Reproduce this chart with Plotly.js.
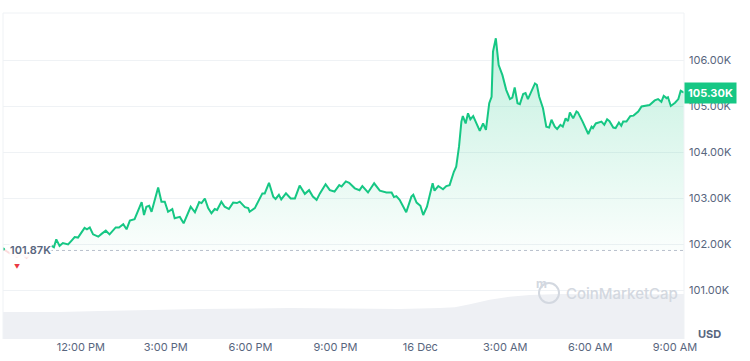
<!DOCTYPE html>
<html>
<head>
<meta charset="utf-8">
<script src="https://cdn.plot.ly/plotly-3.0.1.min.js"></script>
<style>html,body{margin:0;padding:0;background:#fff;}#chart{width:750px;height:361px;}</style>
</head>
<body>
<div id="chart"></div>
<script>
// Faded (pre-window) segment, price in thousands USD
const fadeTimes = ["2024-12-15 09:16","2024-12-15 09:29","2024-12-15 09:44","2024-12-15 09:55","2024-12-15 10:05","2024-12-15 10:18","2024-12-15 10:33","2024-12-15 10:46","2024-12-15 10:58"];
const fadePrices = [101.90,101.81,101.73,101.79,101.71,101.84,101.86,101.90,101.97];

// Main price series (thousands USD)
const times = [
"2024-12-15 10:58","2024-12-15 11:03","2024-12-15 11:08","2024-12-15 11:15","2024-12-15 11:22","2024-12-15 11:33","2024-12-15 11:40","2024-12-15 11:47","2024-12-15 11:54","2024-12-15 12:01",
"2024-12-15 12:08","2024-12-15 12:13","2024-12-15 12:19","2024-12-15 12:26","2024-12-15 12:37","2024-12-15 12:44","2024-12-15 12:53","2024-12-15 13:01","2024-12-15 13:14","2024-12-15 13:21",
"2024-12-15 13:30","2024-12-15 13:37","2024-12-15 13:44","2024-12-15 13:54","2024-12-15 14:09","2024-12-15 14:14","2024-12-15 14:19","2024-12-15 14:25","2024-12-15 14:30","2024-12-15 14:44",
"2024-12-15 14:51","2024-12-15 14:58","2024-12-15 15:05","2024-12-15 15:14","2024-12-15 15:19","2024-12-15 15:30","2024-12-15 15:38","2024-12-15 15:53","2024-12-15 16:02","2024-12-15 16:11",
"2024-12-15 16:16","2024-12-15 16:23","2024-12-15 16:30","2024-12-15 16:37","2024-12-15 16:44","2024-12-15 16:49","2024-12-15 16:58","2024-12-15 17:05","2024-12-15 17:14","2024-12-15 17:23",
"2024-12-15 17:31","2024-12-15 17:37","2024-12-15 17:48","2024-12-15 17:55","2024-12-15 17:58","2024-12-15 18:09","2024-12-15 18:16","2024-12-15 18:25","2024-12-15 18:30","2024-12-15 18:39",
"2024-12-15 18:48","2024-12-15 18:53","2024-12-15 19:00","2024-12-15 19:05","2024-12-15 19:15","2024-12-15 19:25","2024-12-15 19:34","2024-12-15 19:44","2024-12-15 19:55","2024-12-15 20:04",
"2024-12-15 20:12","2024-12-15 20:20","2024-12-15 20:27","2024-12-15 20:39","2024-12-15 20:48","2024-12-15 20:58","2024-12-15 21:08","2024-12-15 21:13","2024-12-15 21:22","2024-12-15 21:29",
"2024-12-15 21:41","2024-12-15 21:51","2024-12-15 21:57","2024-12-15 22:09","2024-12-15 22:22","2024-12-15 22:34","2024-12-15 22:48","2024-12-15 22:59","2024-12-15 23:04","2024-12-15 23:09",
"2024-12-15 23:16","2024-12-15 23:30","2024-12-15 23:41","2024-12-15 23:45","2024-12-15 23:52","2024-12-16 00:00","2024-12-16 00:06","2024-12-16 00:14","2024-12-16 00:26","2024-12-16 00:30",
"2024-12-16 00:38","2024-12-16 00:48","2024-12-16 00:55","2024-12-16 01:02","2024-12-16 01:11","2024-12-16 01:16","2024-12-16 01:22","2024-12-16 01:27","2024-12-16 01:30","2024-12-16 01:36",
"2024-12-16 01:41","2024-12-16 01:46","2024-12-16 01:52","2024-12-16 02:00","2024-12-16 02:06","2024-12-16 02:13","2024-12-16 02:19","2024-12-16 02:26","2024-12-16 02:31","2024-12-16 02:34",
"2024-12-16 02:40","2024-12-16 02:46","2024-12-16 02:54","2024-12-16 03:02","2024-12-16 03:10","2024-12-16 03:15","2024-12-16 03:20","2024-12-16 03:26","2024-12-16 03:31","2024-12-16 03:38",
"2024-12-16 03:43","2024-12-16 03:48","2024-12-16 03:56","2024-12-16 04:03","2024-12-16 04:07","2024-12-16 04:12","2024-12-16 04:20","2024-12-16 04:27","2024-12-16 04:33","2024-12-16 04:38",
"2024-12-16 04:45","2024-12-16 04:50","2024-12-16 04:57","2024-12-16 05:02","2024-12-16 05:08","2024-12-16 05:13","2024-12-16 05:17","2024-12-16 05:24","2024-12-16 05:31","2024-12-16 05:34",
"2024-12-16 05:44","2024-12-16 05:51","2024-12-16 05:56","2024-12-16 06:03","2024-12-16 06:06","2024-12-16 06:12","2024-12-16 06:24","2024-12-16 06:30","2024-12-16 06:36","2024-12-16 06:41",
"2024-12-16 06:49","2024-12-16 06:54","2024-12-16 07:01","2024-12-16 07:06","2024-12-16 07:10","2024-12-16 07:17","2024-12-16 07:25","2024-12-16 07:32","2024-12-16 07:42","2024-12-16 07:49",
"2024-12-16 07:58","2024-12-16 08:06","2024-12-16 08:17","2024-12-16 08:24","2024-12-16 08:31","2024-12-16 08:36","2024-12-16 08:42","2024-12-16 08:45","2024-12-16 08:51","2024-12-16 09:00",
"2024-12-16 09:07","2024-12-16 09:12","2024-12-16 09:19"];
const prices = [
101.97,101.94,102.11,101.97,102.03,102.00,102.08,102.16,102.15,102.27,
102.36,102.33,102.37,102.22,102.17,102.23,102.30,102.22,102.37,102.37,
102.44,102.33,102.52,102.55,102.92,102.64,102.82,102.84,102.71,103.24,
102.93,102.93,102.71,102.77,102.57,102.60,102.46,102.82,102.70,102.92,
102.90,103.00,102.79,102.68,102.77,102.75,102.93,102.82,102.77,102.91,
102.90,102.93,102.81,102.79,102.71,102.79,102.93,103.11,103.11,103.34,
103.04,102.99,103.08,102.98,103.11,103.00,103.00,103.28,103.10,103.18,
103.04,102.97,103.11,103.31,103.18,103.15,103.29,103.26,103.37,103.34,
103.22,103.18,103.27,103.13,103.33,103.17,103.13,103.13,103.03,103.05,
102.97,102.70,103.04,103.08,102.91,102.84,102.64,102.82,103.33,103.17,
103.27,103.20,103.27,103.29,103.58,103.69,104.13,104.67,104.79,104.63,
104.85,104.72,104.79,104.60,104.47,104.63,104.49,105.07,105.21,106.19,
106.48,105.90,105.68,105.36,105.16,105.19,105.41,105.07,105.05,105.27,
105.29,105.16,105.36,105.50,105.47,105.21,104.96,104.56,104.54,104.71,
104.56,104.51,104.60,104.56,104.74,104.68,104.87,104.74,104.89,104.87,
104.67,104.49,104.40,104.56,104.53,104.63,104.67,104.60,104.72,104.68,
104.54,104.53,104.65,104.58,104.67,104.67,104.79,104.80,104.89,105.00,
105.01,105.03,105.13,105.16,105.10,105.23,105.18,105.20,105.01,105.08,
105.16,105.34,105.30];

// 24h volume (billions USD)
const volTimes = ["2024-12-15 09:15","2024-12-15 11:15","2024-12-15 12:40","2024-12-15 14:26","2024-12-15 16:12","2024-12-15 19:23","2024-12-15 20:48","2024-12-15 23:16","2024-12-16 00:41","2024-12-16 01:13","2024-12-16 01:45","2024-12-16 02:27","2024-12-16 03:09","2024-12-16 03:52","2024-12-16 04:56","2024-12-16 07:03","2024-12-16 09:19"];
const volumes = [55,55,57,59,61,63,62,61,63,65,71,80,86,90,92,91,92];

const baseline = 101.87;
const lastPrice = 105.30;
const xTickVals = ["2024-12-15 12:00","2024-12-15 15:00","2024-12-15 18:00","2024-12-15 21:00","2024-12-16 00:00","2024-12-16 03:00","2024-12-16 06:00","2024-12-16 09:00"];
const xTickText = ["12:00 PM","3:00 PM","6:00 PM","9:00 PM","16 Dec","3:00 AM","6:00 AM","9:00 AM"];
const yTickVals = [101,102,103,104,105,106];
const yTickText = ["101.00K","102.00K","103.00K","104.00K","105.00K","106.00K"];

const GREEN = '#16c784';
const GRID = '#eff2f5';
const LABEL = '#58667e';

const xStart = "2024-12-15 09:15", xEnd = "2024-12-16 09:19";

const traces = [
  {x: volTimes, y: volumes, yaxis: 'y2', type: 'scatter', mode: 'lines', line: {shape: 'linear', width: 0, color: '#eef0f4'}, fill: 'tozeroy', fillcolor: '#eef0f4', hoverinfo: 'skip'},
  {x: [times[0], times[times.length-1]], y: [baseline, baseline], type: 'scatter', mode: 'lines', line: {width: 0}, hoverinfo: 'skip'},
  {x: times, y: prices, type: 'scatter', mode: 'lines', line: {color: GREEN, width: 2}, fill: 'tonexty',
   fillgradient: {type: 'vertical', start: baseline, stop: 106.5, colorscale: [[0, 'rgba(22,199,132,0.02)'], [1, 'rgba(22,199,132,0.26)']]}},
  {x: fadeTimes, y: fadePrices, type: 'scatter', mode: 'lines', line: {color: 'rgba(234,57,67,0.18)', width: 2}},
  {x: [fadeTimes[0]], y: [fadePrices[0]], type: 'scatter', mode: 'markers', marker: {color: GREEN, size: 3}}
];

const px = x => (x - 3) / 681;
const py = y => (339 - y) / 326;

const layout = {
  width: 750, height: 361,
  margin: {l: 3, r: 66, t: 13, b: 22},
  paper_bgcolor: '#fff', plot_bgcolor: '#fff',
  showlegend: false,
  font: {family: 'Inter, "Noto Sans", sans-serif', color: LABEL, size: 11},
  xaxis: {type: 'date', range: [xStart, xEnd], showgrid: false, zeroline: false, showline: false,
          tickvals: xTickVals, ticktext: xTickText, ticks: '', tickfont: {size: 11, color: LABEL}},
  yaxis: {side: 'right', range: [99.946, 107.03], tickvals: yTickVals, ticktext: yTickText,
          gridcolor: GRID, gridwidth: 1, zeroline: false, showline: false, ticks: '', ticklabelstandoff: 4,
          tickfont: {size: 11, color: LABEL}},
  yaxis2: {overlaying: 'y', range: [0, 665], visible: false},
  shapes: [
    {type: 'line', xref: 'paper', yref: 'paper', x0: 0, x1: 1, y0: 1, y1: 1, line: {color: GRID, width: 1}},
    {type: 'line', xref: 'paper', yref: 'paper', x0: 0, x1: 0, y0: 0, y1: 1, line: {color: GRID, width: 1}},
    {type: 'line', xref: 'paper', yref: 'paper', x0: 1, x1: 1, y0: 0, y1: 1, line: {color: GRID, width: 1}},
    {type: 'line', xref: 'paper', yref: 'y', x0: px(50), x1: 1, y0: baseline, y1: baseline, line: {color: '#b8c0cc', width: 1, dash: 'dot'}},
    {type: 'circle', xref: 'paper', yref: 'paper', x0: px(539), x1: px(559), y0: py(303), y1: py(283), line: {color: '#d3d8e0', width: 2}}
  ],
  annotations: [
    {xref: 'paper', yref: 'y', x: px(9), y: baseline, xanchor: 'left', yanchor: 'middle', text: '101.87K', showarrow: false,
     font: {size: 11, color: LABEL, weight: 600}, bgcolor: 'rgba(255,255,255,0.85)', borderpad: 0},
    {xref: 'paper', yref: 'paper', x: px(17), y: py(266), xanchor: 'center', yanchor: 'middle', text: '▼', showarrow: false, font: {size: 6, color: '#ea3943'}},
    {xref: 'paper', yref: 'y', x: 1, y: lastPrice, xanchor: 'left', yanchor: 'middle', text: '<b>105.30K</b>', showarrow: false,
     font: {size: 11, color: '#fff'}, bgcolor: GREEN, borderpad: 3},
    {xref: 'paper', yref: 'paper', x: 1, y: py(334), xanchor: 'left', yanchor: 'middle', xshift: 12, text: '<b>USD</b>', showarrow: false,
     font: {size: 11, color: LABEL}},
    {xref: 'paper', yref: 'paper', x: px(549), y: py(293), text: '<b>m</b>', showarrow: false, font: {size: 12, color: '#d3d8e0'}},
    {xref: 'paper', yref: 'paper', x: px(564), y: py(293), xanchor: 'left', yanchor: 'middle', text: 'CoinMarketCap', showarrow: false,
     font: {size: 15, color: '#d3d8e0', weight: 500}}
  ]
};

Plotly.newPlot('chart', traces, layout, {staticPlot: true, displayModeBar: false});
</script>
</body>
</html>
